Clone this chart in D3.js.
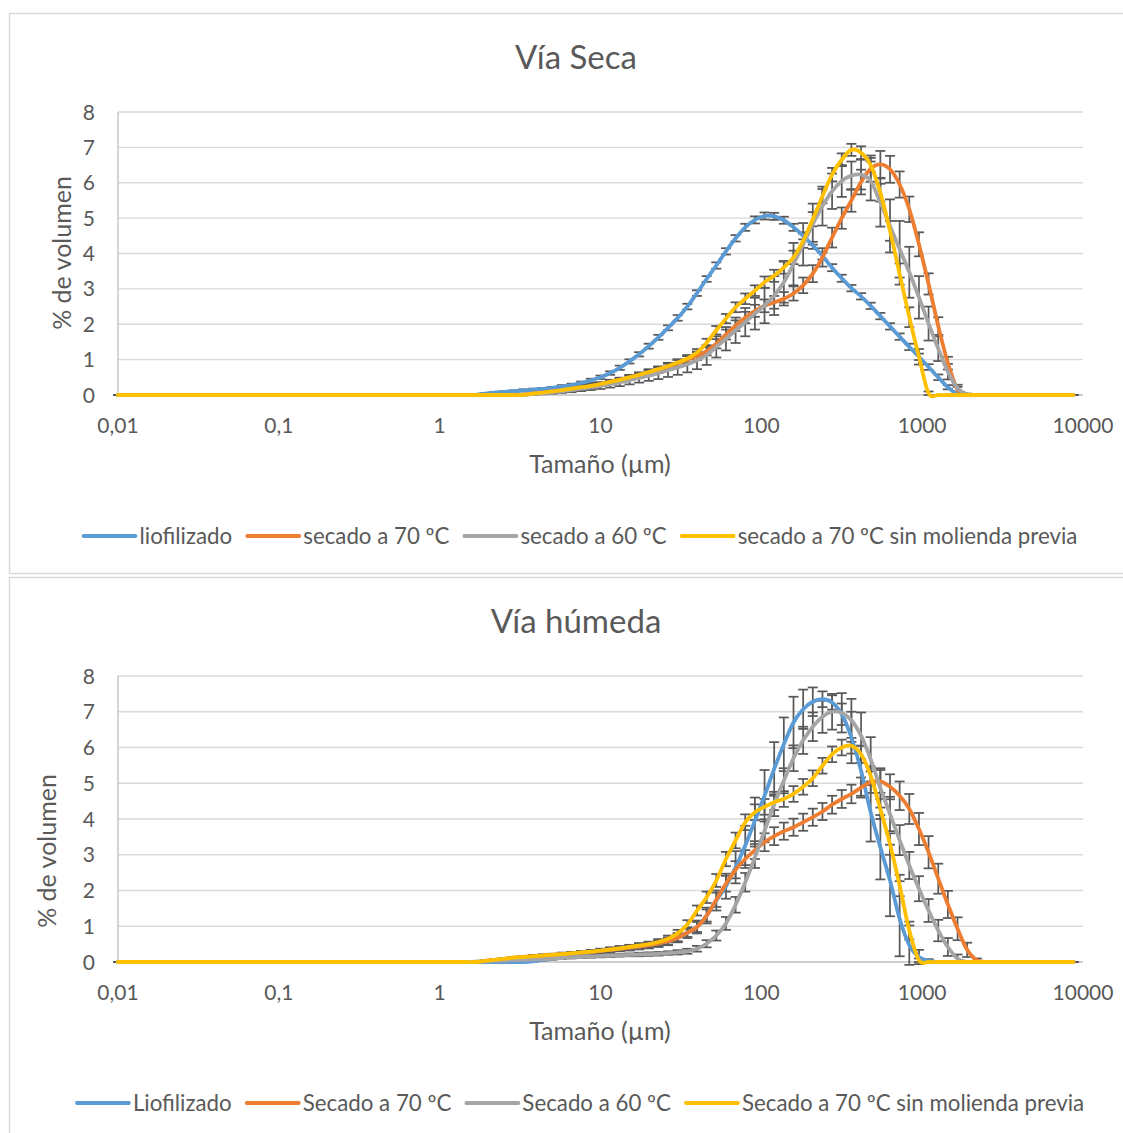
<!DOCTYPE html>
<html><head><meta charset="utf-8">
<script src="https://cdn.jsdelivr.net/npm/d3@7"></script>
<style>html,body{margin:0;padding:0;background:#fff;}</style>
</head><body>
<svg id="chart" width="1123" height="1133"></svg>
<script>
// ---------- DATA ----------
const sizes = [
0.01,0.01148,0.01318,0.01514,0.01738,0.01995,0.02291,0.0263,0.0302,0.03467,
0.03981,0.04571,0.05248,0.06026,0.06918,0.07943,0.0912,0.1047,0.1202,0.138,
0.1585,0.182,0.2089,0.2399,0.2754,0.3162,0.3631,0.4169,0.4786,0.5495,
0.631,0.7244,0.8318,0.955,1.096,1.259,1.445,1.66,1.905,2.188,
2.512,2.884,3.311,3.802,4.365,5.012,5.754,6.607,7.586,8.71,
10,11.48,13.18,15.14,17.38,19.95,22.91,26.3,30.2,34.67,
39.81,45.71,52.48,60.26,69.18,79.43,91.2,104.7,120.2,138,
158.5,182,208.9,239.9,275.4,316.2,363.1,416.9,478.6,549.5,
631,724.4,831.8,955,1096,1259,1445,1660,1905,2188,
2512,2884,3311,3802,4365,5012,5754,6607,7586,8710];

const xTickValues = [0.01,0.1,1,10,100,1000,10000];
const xTickLabels = ["0,01","0,1","1","10","100","1000","10000"];
const yTickValues = [0,1,2,3,4,5,6,7,8];

const titleSeca = "Vía Seca";
const titleHumeda = "Vía húmeda";
const xAxisTitle = "Tamaño (µm)";
const yAxisTitle = "% de volumen";
const namesSeca = ["liofilizado","secado a 70 ºC","secado a 60 ºC","secado a 70 ºC sin molienda previa"];
const namesHumeda = ["Liofilizado","Secado a 70 ºC","Secado a 60 ºC","Secado a 70 ºC sin molienda previa"];
const seriesColors = ["#5B9BD5","#ED7D31","#A5A5A5","#FFC000"];

// Vía seca
const secaLiof = [
0,0,0,0,0,0,0,0,0,0, 0,0,0,0,0,0,0,0,0,0, 0,0,0,0,0,0,0,0,0,0,
0,0,0,0,0,0,0,0,0.04,0.07,
0.09,0.11,0.13,0.15,0.17,0.2,0.24,0.28,0.34,0.41,
0.5,0.62,0.77,0.95,1.15,1.38,1.63,1.9,2.18,2.5,
2.88,3.28,3.66,4.06,4.43,4.74,4.95,5.06,5.05,4.94,
4.74,4.5,4.23,3.93,3.6,3.3,3.02,2.79,2.52,2.23,
1.94,1.65,1.36,1.08,0.79,0.5,0.22,0.03,0,0,
0,0,0,0,0,0,0,0,0,0];
const secaS70 = [
0,0,0,0,0,0,0,0,0,0, 0,0,0,0,0,0,0,0,0,0, 0,0,0,0,0,0,0,0,0,0,
0,0,0,0,0,0,0,0,0,0,
0,0,0.01,0.04,0.07,0.1,0.13,0.17,0.21,0.25,
0.3,0.36,0.42,0.49,0.56,0.63,0.71,0.8,0.9,1.0,
1.1,1.24,1.45,1.71,1.96,2.19,2.38,2.52,2.62,2.72,
2.87,3.1,3.43,3.89,4.45,5.0,5.5,6.02,6.4,6.52,
6.38,5.95,5.25,4.26,3.14,1.95,0.9,0.15,0,0,
0,0,0,0,0,0,0,0,0,0];
const secaS60 = [
0,0,0,0,0,0,0,0,0,0, 0,0,0,0,0,0,0,0,0,0, 0,0,0,0,0,0,0,0,0,0,
0,0,0,0,0,0,0,0,0,0,
0,0,0,0.03,0.05,0.08,0.11,0.14,0.18,0.22,
0.26,0.31,0.36,0.42,0.48,0.55,0.62,0.7,0.78,0.87,
0.98,1.13,1.36,1.59,1.83,2.06,2.3,2.53,2.81,3.19,
3.7,4.26,4.83,5.34,5.76,6.05,6.2,6.23,6.05,5.44,
4.78,4.12,3.47,2.76,2.02,1.31,0.66,0.19,0.02,0,
0,0,0,0,0,0,0,0,0,0];
const secaS70sm = [
0,0,0,0,0,0,0,0,0,0, 0,0,0,0,0,0,0,0,0,0, 0,0,0,0,0,0,0,0,0,0,
0,0,0,0,0,0,0,0,0,0,
0,0,0,0.04,0.07,0.1,0.14,0.18,0.22,0.26,
0.31,0.37,0.43,0.5,0.57,0.65,0.73,0.82,0.92,1.03,
1.2,1.48,1.83,2.16,2.48,2.72,2.95,3.19,3.37,3.61,
3.89,4.36,4.97,5.62,6.23,6.65,6.93,6.85,6.5,5.72,
4.64,3.42,2.2,1.08,0.05,0,0,0,0,0,
0,0,0,0,0,0,0,0,0,0];

const secaLiofErr = [
0,0,0,0,0,0,0,0,0,0, 0,0,0,0,0,0,0,0,0,0, 0,0,0,0,0,0,0,0,0,0,
0,0,0,0,0,0,0,0,0.02,0.02,
0.02,0.02,0.03,0.03,0.03,0.03,0.04,0.04,0.04,0.05,
0.05,0.05,0.06,0.06,0.06,0.07,0.07,0.07,0.08,0.08,
0.08,0.08,0.09,0.09,0.09,0.1,0.1,0.1,0.1,0.1,
0.1,0.1,0.1,0.1,0.1,0.1,0.09,0.09,0.09,0.09,
0.09,0.09,0.09,0.09,0.08,0.08,0.06,0.03,0,0,
0,0,0,0,0,0,0,0,0,0];
const secaS70Err = [
0,0,0,0,0,0,0,0,0,0, 0,0,0,0,0,0,0,0,0,0, 0,0,0,0,0,0,0,0,0,0,
0,0,0,0,0,0,0,0,0,0,
0,0,0.01,0.02,0.02,0.03,0.03,0.04,0.04,0.05,
0.05,0.06,0.06,0.07,0.07,0.08,0.08,0.09,0.1,0.1,
0.11,0.12,0.13,0.14,0.15,0.16,0.17,0.18,0.18,0.19,
0.2,0.22,0.24,0.26,0.28,0.3,0.32,0.35,0.37,0.38,
0.38,0.37,0.36,0.34,0.3,0.25,0.18,0.08,0,0,
0,0,0,0,0,0,0,0,0,0];
const secaS60Err = [
0,0,0,0,0,0,0,0,0,0, 0,0,0,0,0,0,0,0,0,0, 0,0,0,0,0,0,0,0,0,0,
0,0,0,0,0,0,0,0,0,0,
0,0,0,0.02,0.03,0.04,0.05,0.06,0.07,0.08,
0.09,0.1,0.11,0.12,0.13,0.15,0.17,0.19,0.21,0.23,
0.25,0.28,0.3,0.33,0.36,0.4,0.45,0.5,0.55,0.58,
0.6,0.6,0.58,0.55,0.5,0.45,0.4,0.42,0.55,0.68,
0.75,0.8,0.72,0.6,0.48,0.35,0.22,0.1,0.02,0,
0,0,0,0,0,0,0,0,0,0];
const secaS70smErr = [
0,0,0,0,0,0,0,0,0,0, 0,0,0,0,0,0,0,0,0,0, 0,0,0,0,0,0,0,0,0,0,
0,0,0,0,0,0,0,0,0,0,
0,0,0,0.02,0.02,0.03,0.03,0.04,0.04,0.05,
0.05,0.06,0.06,0.07,0.07,0.08,0.08,0.09,0.09,0.1,
0.1,0.11,0.12,0.13,0.14,0.15,0.15,0.16,0.17,0.18,
0.19,0.2,0.2,0.2,0.19,0.18,0.17,0.18,0.2,0.25,
0.28,0.3,0.28,0.22,0.05,0,0,0,0,0,
0,0,0,0,0,0,0,0,0,0];

// Vía húmeda
const humLiof = [
0,0,0,0,0,0,0,0,0,0, 0,0,0,0,0,0,0,0,0,0, 0,0,0,0,0,0,0,0,0,0,
0,0,0,0,0,0,0,0,0,0,
0,0,0,0.02,0.06,0.1,0.14,0.18,0.22,0.27,
0.31,0.34,0.37,0.4,0.43,0.47,0.52,0.58,0.68,0.82,
0.98,1.3,1.72,2.12,2.65,3.26,3.95,4.65,5.4,6.09,
6.7,7.07,7.28,7.35,7.26,6.93,6.28,5.35,4.19,3.21,
2.28,1.21,0.47,0.14,0.03,0,0,0,0,0,
0,0,0,0,0,0,0,0,0,0];
const humS70 = [
0,0,0,0,0,0,0,0,0,0, 0,0,0,0,0,0,0,0,0,0, 0,0,0,0,0,0,0,0,0,0,
0,0,0,0,0,0,0,0,0.03,0.06,
0.09,0.12,0.14,0.16,0.18,0.2,0.22,0.24,0.26,0.28,
0.31,0.34,0.37,0.4,0.43,0.47,0.52,0.58,0.68,0.82,
0.98,1.3,1.74,2.19,2.58,2.88,3.13,3.35,3.52,3.66,
3.77,3.91,4.05,4.21,4.4,4.56,4.7,4.88,5.03,5.05,
4.9,4.65,4.28,3.72,3.07,2.33,1.61,0.93,0.34,0.05,
0,0,0,0,0,0,0,0,0,0];
const humS60 = [
0,0,0,0,0,0,0,0,0,0, 0,0,0,0,0,0,0,0,0,0, 0,0,0,0,0,0,0,0,0,0,
0,0,0,0,0,0,0,0.01,0.02,0.03,
0.04,0.05,0.06,0.07,0.08,0.1,0.11,0.13,0.14,0.16,
0.17,0.18,0.19,0.2,0.21,0.22,0.23,0.25,0.27,0.3,
0.37,0.51,0.74,1.08,1.6,2.23,2.93,3.67,4.42,5.07,
5.7,6.2,6.58,6.86,7.0,6.97,6.76,6.33,5.67,4.87,
4.14,3.41,2.7,2.05,1.44,0.88,0.42,0.09,0,0,
0,0,0,0,0,0,0,0,0,0];
const humS70sm = [
0,0,0,0,0,0,0,0,0,0, 0,0,0,0,0,0,0,0,0,0, 0,0,0,0,0,0,0,0,0,0,
0,0,0,0,0,0,0,0,0.03,0.06,
0.09,0.12,0.14,0.16,0.18,0.2,0.22,0.24,0.27,0.29,
0.32,0.35,0.38,0.42,0.46,0.5,0.56,0.65,0.8,1.05,
1.44,1.81,2.28,2.88,3.4,3.91,4.19,4.34,4.47,4.56,
4.7,4.9,5.14,5.49,5.81,6.0,6.05,5.81,5.21,4.28,
3.3,2.14,0.88,0.05,0,0,0,0,0,0,
0,0,0,0,0,0,0,0,0,0];

const humLiofErr = [
0,0,0,0,0,0,0,0,0,0, 0,0,0,0,0,0,0,0,0,0, 0,0,0,0,0,0,0,0,0,0,
0,0,0,0,0,0,0,0,0,0,
0,0,0,0.01,0.02,0.03,0.04,0.05,0.05,0.06,
0.06,0.07,0.07,0.08,0.08,0.09,0.1,0.11,0.13,0.15,
0.18,0.22,0.28,0.35,0.45,0.55,0.65,0.72,0.75,0.75,
0.72,0.55,0.4,0.22,0.2,0.3,0.72,0.7,0.82,0.9,
1.0,1.05,0.55,0.2,0.05,0,0,0,0,0,
0,0,0,0,0,0,0,0,0,0];
const humS70Err = [
0,0,0,0,0,0,0,0,0,0, 0,0,0,0,0,0,0,0,0,0, 0,0,0,0,0,0,0,0,0,0,
0,0,0,0,0,0,0,0,0.01,0.01,
0.02,0.02,0.02,0.03,0.03,0.03,0.04,0.04,0.04,0.05,
0.05,0.05,0.06,0.06,0.07,0.07,0.08,0.09,0.1,0.12,
0.14,0.17,0.2,0.22,0.24,0.25,0.25,0.25,0.25,0.24,
0.24,0.24,0.24,0.24,0.25,0.25,0.26,0.28,0.3,0.32,
0.35,0.4,0.42,0.45,0.45,0.42,0.38,0.32,0.2,0.05,
0,0,0,0,0,0,0,0,0,0];
const humS60Err = [
0,0,0,0,0,0,0,0,0,0, 0,0,0,0,0,0,0,0,0,0, 0,0,0,0,0,0,0,0,0,0,
0,0,0,0,0,0,0,0.01,0.01,0.01,
0.01,0.02,0.02,0.02,0.02,0.03,0.03,0.03,0.03,0.04,
0.04,0.04,0.04,0.04,0.05,0.05,0.05,0.05,0.06,0.07,
0.08,0.1,0.14,0.18,0.22,0.26,0.3,0.32,0.34,0.35,
0.36,0.38,0.4,0.45,0.5,0.55,0.6,0.65,0.62,0.55,
0.48,0.42,0.38,0.35,0.32,0.3,0.25,0.12,0,0,
0,0,0,0,0,0,0,0,0,0];
const humS70smErr = [
0,0,0,0,0,0,0,0,0,0, 0,0,0,0,0,0,0,0,0,0, 0,0,0,0,0,0,0,0,0,0,
0,0,0,0,0,0,0,0,0.01,0.01,
0.02,0.02,0.02,0.03,0.03,0.03,0.04,0.04,0.04,0.05,
0.05,0.05,0.06,0.06,0.07,0.07,0.08,0.09,0.1,0.12,
0.14,0.16,0.18,0.2,0.22,0.22,0.22,0.22,0.22,0.22,
0.22,0.22,0.22,0.22,0.22,0.22,0.22,0.24,0.26,0.28,
0.3,0.3,0.25,0.05,0,0,0,0,0,0,
0,0,0,0,0,0,0,0,0,0];

// ---------- DRAWING ----------
const FONT = "Lato, 'Open Sans', sans-serif";
const TXT = "#595959";
const svg = d3.select("#chart");

function drawPanel(cfg) {
  const g = svg.append("g");
  g.append("rect").attr("x", 9.5).attr("y", cfg.top + 0.5)
    .attr("width", 1125).attr("height", 560)
    .attr("fill", "#fff").attr("stroke", "#d9d9d9").attr("stroke-width", 1.5);

  const x = d3.scaleLog().domain([0.01, 10000]).range([118, 1083]);
  const y = d3.scaleLinear().domain([0, 8]).range([cfg.y0, cfg.y8]);

  g.append("g").selectAll("line").data(yTickValues.filter(d => d > 0)).join("line")
    .attr("x1", 118).attr("x2", 1083)
    .attr("y1", d => y(d)).attr("y2", d => y(d))
    .attr("stroke", "#d9d9d9").attr("stroke-width", 1.3);

  g.append("line").attr("x1", 118).attr("x2", 118).attr("y1", y(8)).attr("y2", y(0))
    .attr("stroke", "#bfbfbf").attr("stroke-width", 1.3);
  g.append("line").attr("x1", 118).attr("x2", 1083).attr("y1", y(0)).attr("y2", y(0))
    .attr("stroke", "#bfbfbf").attr("stroke-width", 1.3);

  g.append("g").selectAll("text").data(yTickValues).join("text")
    .attr("x", 95).attr("y", d => y(d)).attr("dy", "0.36em")
    .attr("text-anchor", "end").attr("font-family", FONT).attr("font-size", 21)
    .attr("fill", TXT).text(d => d);

  g.append("g").selectAll("text").data(xTickValues).join("text")
    .attr("x", d => x(d)).attr("y", cfg.y0 + 38)
    .attr("text-anchor", "middle").attr("font-family", FONT).attr("font-size", 21)
    .attr("fill", TXT).text((d, i) => xTickLabels[i]);

  g.append("text").attr("x", 576).attr("y", cfg.top + 56)
    .attr("text-anchor", "middle").attr("font-family", FONT).attr("font-size", 33)
    .attr("fill", TXT).text(cfg.title);

  g.append("text").attr("x", 600).attr("y", cfg.y0 + 78)
    .attr("text-anchor", "middle").attr("font-family", FONT).attr("font-size", 25)
    .attr("fill", TXT).text(xAxisTitle);
  g.append("text")
    .attr("transform", `translate(${cfg.yTitleX},${cfg.yTitleY}) rotate(-90)`)
    .attr("text-anchor", "middle").attr("dy", "0.35em")
    .attr("font-family", FONT).attr("font-size", 25)
    .attr("fill", TXT).text(yAxisTitle);

  const line = d3.line().x((d, i) => x(sizes[i])).y(d => y(d)).curve(d3.curveCardinal.tension(0));

  const eb = g.append("g").attr("stroke", "#595959").attr("stroke-width", 1.75);
  cfg.series.forEach((s) => {
    s.values.forEach((v, i) => {
      const e = s.err[i];
      const cx = x(sizes[i]);
      const yt = y(v + e), yb = y(v - e);
      if (e > 0) eb.append("line").attr("x1", cx).attr("x2", cx).attr("y1", yt).attr("y2", yb);
      eb.append("line").attr("x1", cx - 5).attr("x2", cx + 5).attr("y1", yt).attr("y2", yt);
      eb.append("line").attr("x1", cx - 5).attr("x2", cx + 5).attr("y1", yb).attr("y2", yb);
    });
  });

  cfg.series.forEach((s, si) => {
    g.append("path").datum(s.values).attr("d", line)
      .attr("fill", "none").attr("stroke", seriesColors[si])
      .attr("stroke-width", 3.8).attr("stroke-linecap", "round").attr("stroke-linejoin", "round");
  });

  const lg = g.append("g");
  const items = [];
  let cursor = 0;
  cfg.names.forEach((n, i) => {
    const it = lg.append("g");
    it.append("line").attr("x1", 0).attr("x2", 52).attr("y1", 0).attr("y2", 0)
      .attr("stroke", seriesColors[i]).attr("stroke-width", 3.8).attr("stroke-linecap", "round");
    const t = it.append("text").attr("x", 56).attr("y", 0).attr("dy", "0.35em")
      .attr("font-family", FONT).attr("font-size", 22.3).attr("fill", TXT).text(n);
    const w = 56 + t.node().getComputedTextLength();
    items.push({ it, x: cursor });
    cursor += w + 15;
  });
  const total = cursor - 15;
  const start = 580.5 - total / 2;
  items.forEach(d => d.it.attr("transform", `translate(${start + d.x},${cfg.legendY})`));
}

drawPanel({
  top: 13, y0: 395, y8: 112, title: titleSeca, names: namesSeca,
  yTitleX: 62, yTitleY: 253, legendY: 536,
  series: [
    { values: secaLiof, err: secaLiofErr },
    { values: secaS70, err: secaS70Err },
    { values: secaS60, err: secaS60Err },
    { values: secaS70sm, err: secaS70smErr }
  ]
});
drawPanel({
  top: 577, y0: 962, y8: 676, title: titleHumeda, names: namesHumeda,
  yTitleX: 47, yTitleY: 851, legendY: 1103,
  series: [
    { values: humLiof, err: humLiofErr },
    { values: humS70, err: humS70Err },
    { values: humS60, err: humS60Err },
    { values: humS70sm, err: humS70smErr }
  ]
});
</script>
</body></html>
